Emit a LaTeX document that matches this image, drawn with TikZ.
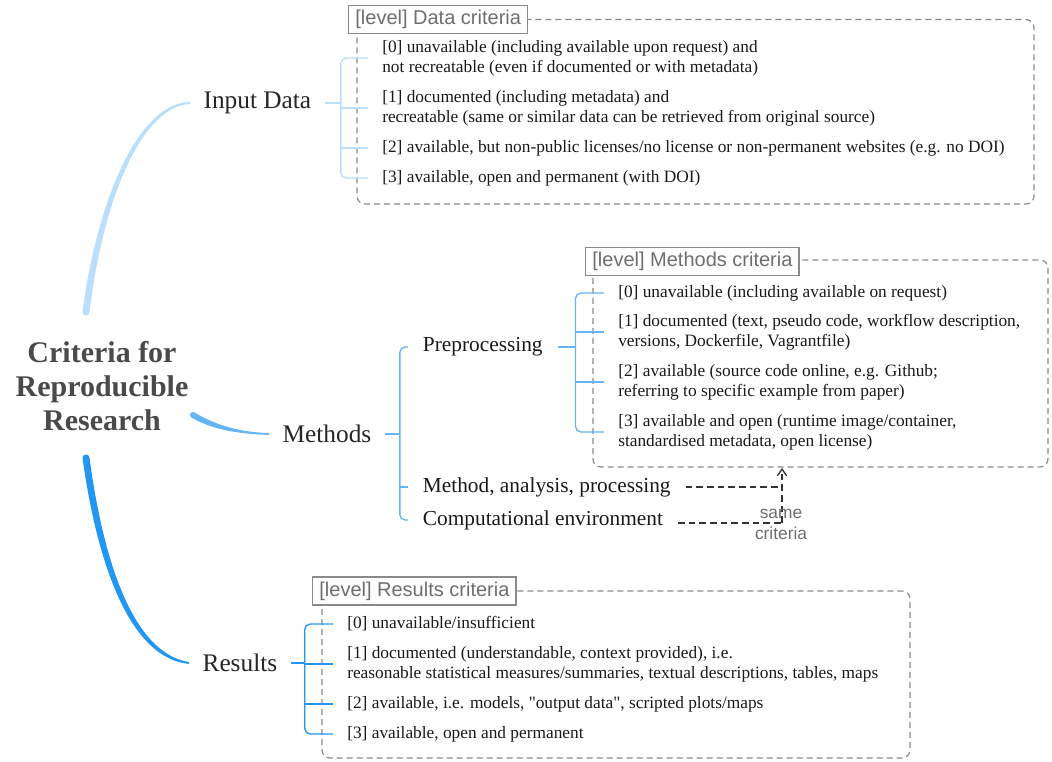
\documentclass[tikz,border=0pt]{standalone}
\usepackage{fontspec}
\setmainfont{Liberation Serif}
\setsansfont{Liberation Sans}
\usetikzlibrary{arrows.meta}
\definecolor{blueA}{HTML}{BBDEFB}
\definecolor{blueB}{HTML}{64B5F6}
\definecolor{blueC}{HTML}{2196F3}
\definecolor{boxgray}{HTML}{8A8A8A}
\definecolor{labgray}{HTML}{6E6E6E}
\definecolor{titlegray}{HTML}{4A4A4A}
\begin{document}
\begin{tikzpicture}[x=0.75pt,y=-0.75pt,
		title/.style={align=center,text=titlegray,font=\bfseries\fontsize{22.5pt}{25.5pt}\selectfont},
		topic/.style={anchor=west,inner xsep=10pt,text=black!85,font=\fontsize{19pt}{22pt}\selectfont},
		subtopic/.style={anchor=west,inner xsep=11pt,text=black!90,font=\fontsize{16pt}{19pt}\selectfont},
		crit/.style={anchor=west,align=left,inner xsep=10.5pt,text=black!90,font=\fontsize{13pt}{15pt}\selectfont},
		levelbox/.style={anchor=west,draw=boxgray,line width=1.1pt,fill=white,text=labgray,inner xsep=5pt,minimum height=21pt,font=\sffamily\fontsize{15pt}{18pt}\selectfont},
		critframe/.style={draw=boxgray,dash pattern=on 4.5pt off 3pt,line width=0.9pt,rounded corners=6pt},
		bracket/.style={line width=1pt,rounded corners=4pt},
		sameline/.style={draw=black!80,dash pattern=on 5pt off 3pt,line width=1pt},
		samelabel/.style={align=center,text=labgray,font=\sffamily\fontsize{13pt}{15.75pt}\selectfont}
		]
		\useasboundingbox (0,0) rectangle (1052,762);
		
		% dashed frames of the criteria
		\draw[critframe] (357,19.5) rectangle (1034,204);
		\draw[critframe] (593,260) rectangle (1048,467);
		\draw[critframe] (322,591) rectangle (910,758);
		\node[levelbox](LD) at (348,19.5){[level] Data criteria};
		\node[levelbox](LP) at (585,261.5){[level] Methods criteria};
		\node[levelbox](LR) at (312,591){[level] Results criteria};
		
		\node[title](T) at (102,386){Criteria for\\Reproducible\\Research};
		\node[topic](I1) at (190,103){Input Data};
		\node[topic](M1) at (269,434){Methods};
		\node[topic](R1) at (189,663){Results};
		
		\node[subtopic](M2) at (408,347){Preprocessing};
		\node[subtopic](M3) at (408,487){Method, analysis, processing};
		\node[subtopic](M4) at (408,520){Computational environment};
		
		\node[crit](ID0) at (368,58){[0] unavailable (including available upon request) and\\not recreatable (even if documented or with metadata)};
		\node[crit](ID1) at (368,108){[1] documented (including metadata) and\\recreatable (same or similar data can be retrieved from original source)};
		\node[crit](ID2) at (368,148){[2] available, but non-public licenses/no license or non-permanent websites (e.g. no DOI)};
		\node[crit](ID3) at (368,178){[3] available, open and permanent (with DOI)};
		
		\node[crit](PP0) at (604,293){[0] unavailable (including available on request)};
		\node[crit](PP1) at (604,332){[1] documented (text, pseudo code, workflow description,\\versions, Dockerfile, Vagrantfile)};
		\node[crit](PP2) at (604,382){[2] available (source code online, e.g. Github;\\referring to specific example from paper)};
		\node[crit](PP3) at (604,432){[3] available and open (runtime image/container,\\standardised metadata, open license)};
		
		\node[crit](RS0) at (333,624){[0] unavailable/insufficient};
		\node[crit](RS1) at (333,664){[1] documented (understandable, context provided), i.e.\\reasonable statistical measures/summaries, textual descriptions, tables, maps};
		\node[crit](RS2) at (333,704){[2] available, i.e. models, \textquotedbl output data\textquotedbl, scripted plots/maps};
		\node[crit](RS3) at (333,734){[3] available, open and permanent};
		
		% tapered main branches
		\fill[blueA] (82.5,312) .. controls (97,200) and (139,102) .. ([yshift=0.7pt]I1.west)
		-- ([yshift=-0.7pt]I1.west) .. controls (141,107) and (103,200) .. (89.5,312)
		arc[start angle=0,end angle=180,radius=3.5] -- cycle;
		\fill[blueB] (194.5,412.4) .. controls (216,425.5) and (240,432.2) .. ([yshift=0.7pt]M1.west)
		-- ([yshift=-0.7pt]M1.west) .. controls (240,433.8) and (214,430.5) .. (191.5,417.6)
		arc[start angle=120,end angle=300,radius=3] -- cycle;
		\fill[blueC] (82.5,458) .. controls (97,562) and (129,658) .. ([yshift=-0.7pt]R1.west)
		-- ([yshift=0.7pt]R1.west) .. controls (132,653) and (103,558) .. (89.5,458)
		arc[start angle=0,end angle=-180,radius=3.5] -- cycle;
		
		% brackets
		\draw[bracket,blueA] (I1.east) -- ++(16,0) coordinate (JI);
		\draw[bracket,blueA] (ID0.west) -| (JI) |- (ID3.west);
		\foreach \c in {ID1,ID2}
		\draw[bracket,blueA] (\c.west) -- (\c.west -| JI);
		
		\draw[bracket,blueB] (M1.east) -- ++(15,0) coordinate (JM);
		\draw[bracket,blueB] (M2.west) -| (JM) |- (M4.west);
		\draw[bracket,blueB] (M3.west) -- (M3.west -| JM);
		
		\draw[bracket,blueB] (M2.east) -- ++(18,0) coordinate (JP);
		\draw[bracket,blueB] (PP0.west) -| (JP) |- (PP3.west);
		\foreach \c in {PP1,PP2}
		\draw[bracket,blueB] (\c.west) -- (\c.west -| JP);
		
		\draw[bracket,blueC] (R1.east) -- ++(14,0) coordinate (JR);
		\draw[bracket,blueC] (RS0.west) -| (JR) |- (RS3.west);
		\foreach \c in {RS1,RS2}
		\draw[bracket,blueC] (\c.west) -- (\c.west -| JR);
		
		% same criteria
		\coordinate (SB) at (782,523);
		\coordinate (ST) at (782,468);
		\draw[sameline] (M3.east) -- (M3.east -| SB);
		\draw[sameline] (M4.east |- SB) -- (SB);
		\draw[sameline,-{Straight Barb[length=5pt,width=7pt]}] (SB) -- (ST);
		\node[samelabel](SL) at (781,524){same\\criteria};
	\end{tikzpicture}
\end{document}
